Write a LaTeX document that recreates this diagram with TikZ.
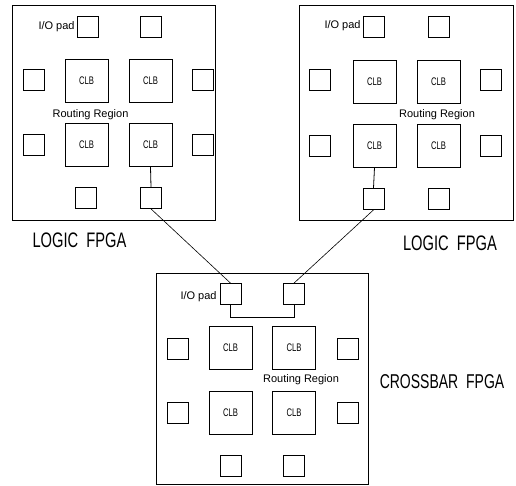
\documentclass[tikz,border=0pt]{standalone}
\usepackage{fontspec}
\setmainfont{Liberation Sans}
\newfontfamily\cond{Liberation Sans}[FakeStretch=0.7]
\begin{document}
\begin{tikzpicture}[x=1pt,y=-1pt,
  line width=0.8pt,
  chip/.style={draw,minimum width=#1,inner sep=0pt},
  pad/.style={draw,minimum width=21pt,minimum height=21pt,inner sep=0pt},
  clb/.style={draw,minimum width=43pt,minimum height=43pt,inner sep=0pt,font=\cond\fontsize{11}{11}\selectfont},
  lbl/.style={inner sep=0pt,font=\fontsize{11}{11}\selectfont},
  big/.style={inner sep=0pt,font=\cond\fontsize{21}{21}\selectfont}]
\useasboundingbox (0,0) rectangle (516,486);
% ---------- left logic FPGA ----------
\node[draw,minimum width=203pt,minimum height=215pt,inner sep=0pt] (L) at (113.5,112.5) {};
\node[pad] (Lt1) at (87.5,27) {};
\node[pad] (Lt2) at (151,27) {};
\node[pad] (Ll1) at (34,79.5) {};
\node[pad] (Ll2) at (34,145) {};
\node[pad] (Lr1) at (203,79.5) {};
\node[pad] (Lr2) at (203,145) {};
\node[pad] (Lb1) at (85.5,198) {};
\node[pad] (Lb2) at (151,198) {};
\node[clb] (Lc1) at (86.5,80.5) {CLB};
\node[clb] (Lc2) at (150.5,80.5) {CLB};
\node[clb] (Lc3) at (86.5,145) {CLB};
\node[clb] (Lc4) at (150.5,145) {CLB};
\node[lbl,anchor=east] (Lio) at (75,27) {I/O pad};
\node[lbl] (Lrr) at (90.5,115) {Routing Region};
\node[big] (Lname) at (79.5,240.5) {LOGIC\ \ FPGA};
\draw (Lc4.south) -- (Lb2.north);
% ---------- right logic FPGA ----------
\node[draw,minimum width=214pt,minimum height=215pt,inner sep=0pt] (R) at (406,112.5) {};
\node[pad] (Rt1) at (373.5,26.5) {};
\node[pad] (Rt2) at (438.5,26.5) {};
\node[pad] (Rl1) at (320,80) {};
\node[pad] (Rl2) at (320,146) {};
\node[pad] (Rr1) at (490.5,80) {};
\node[pad] (Rr2) at (490.5,146) {};
\node[pad] (Rb1) at (373.5,199) {};
\node[pad] (Rb2) at (438.5,199) {};
\node[clb] (Rc1) at (374.5,82) {CLB};
\node[clb] (Rc2) at (438.5,82) {CLB};
\node[clb] (Rc3) at (374.5,145.5) {CLB};
\node[clb] (Rc4) at (438.5,145.5) {CLB};
\node[lbl,anchor=east] (Rio) at (361,25.5) {I/O pad};
\node[lbl] (Rrr) at (437,115) {Routing Region};
\node[big] (Rname) at (450,243) {LOGIC\ \ FPGA};
\draw (Rc3.south) -- (Rb1.north);
% ---------- crossbar FPGA ----------
\node[draw,minimum width=212pt,minimum height=211pt,inner sep=0pt] (X) at (262,378.5) {};
\node[pad] (Xt1) at (230.5,294) {};
\node[pad] (Xt2) at (294,294) {};
\node[pad] (Xl1) at (177.5,348.5) {};
\node[pad] (Xl2) at (177.5,413) {};
\node[pad] (Xr1) at (347.5,348.5) {};
\node[pad] (Xr2) at (347.5,413) {};
\node[pad] (Xb1) at (230.5,466) {};
\node[pad] (Xb2) at (294,466) {};
\node[clb] (Xc1) at (230.5,348) {CLB};
\node[clb] (Xc2) at (294,348) {CLB};
\node[clb] (Xc3) at (230.5,412.5) {CLB};
\node[clb] (Xc4) at (294,412.5) {CLB};
\node[lbl,anchor=east] (Xio) at (217,296.5) {I/O pad};
\node[lbl] (Xrr) at (301,380) {Routing Region};
\node[big,font=\cond\fontsize{20}{20}\selectfont] (Xname) at (442,382) {CROSSBAR\ \ FPGA};
\draw (Xt1.south) -- ++(0,12) -| (Xt2.south);
% ---------- inter-chip wires ----------
\draw[line width=0.6pt] (Lb2.south) -- (Xt1.north);
\draw[line width=0.6pt] (Rb1.south) -- (Xt2.north);
\end{tikzpicture}
\end{document}
